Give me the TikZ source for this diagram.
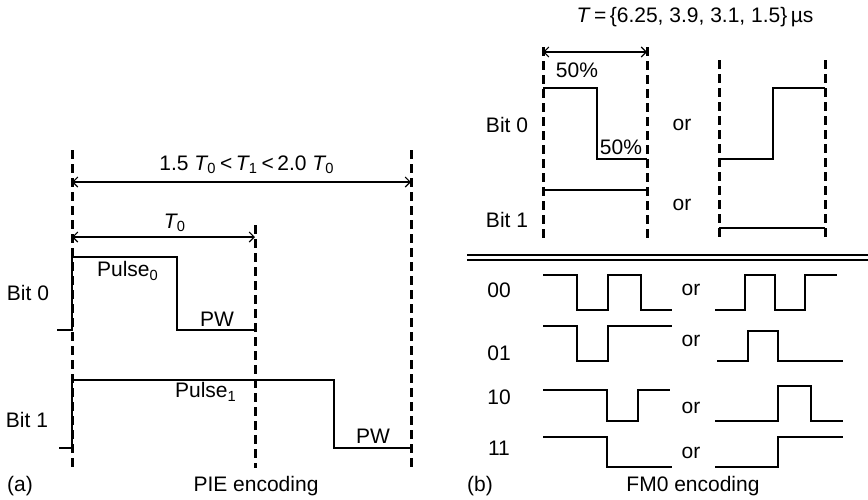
\documentclass[tikz,border=0pt]{standalone}
\usepackage{fontspec}
\setmainfont{Liberation Sans}
\usetikzlibrary{arrows.meta}
\newcommand{\Tsub}[1]{\textit{T}\kern-0.5pt\textsubscript{#1}}

\begin{document}
\begin{tikzpicture}[x = 0.5pt, y = -0.5pt,
    font = \fontsize{10.5}{12}\selectfont,
    guide/.style = {line width = 1.5pt, dash pattern = on 4.5pt off 2.5pt},
    wave/.style = {line width = 0.7pt},
    dim/.style = {line width = 0.55pt,
      {Straight Barb[length = 2.5pt, width = 5pt]}-{Straight Barb[length = 2.5pt, width = 5pt]}},
    lbl/.style = {inner sep = 0pt}]
  \useasboundingbox (0, 0) rectangle (868, 499);
  % (a) guides
  \coordinate (ga) at (72, 150);
  \coordinate (gb) at (255, 225);
  \coordinate (gc) at (411, 150);
  \foreach \g in {ga, gb, gc}
    \draw[guide] (\g) -- (\g |- 0, 468);
  % (a) dimensions
  \draw[dim] (ga |- 0, 182) -- (gc |- 0, 182);
  \node[lbl] (range) at (247, 165) {1.5 \Tsub{0}\,<\,\Tsub{1}\,<\,2.0 \Tsub{0}};
  \draw[dim] (ga |- 0, 237) -- (gb |- 0, 237);
  \node[lbl] (tzero) at (175, 223) {\Tsub{0}};
  % (a) pulses
  \draw[wave] (57, 330) -- (72, 330) -- (72, 257) -- (177, 257) -- (177, 330) -- (255, 330);
  \draw[wave] (59, 448) -- (72, 448) -- (72, 380) -- (334, 380) -- (334, 448) -- (411, 448);
  \node[lbl] (bitA0) at (28, 293) {Bit 0};
  \node[lbl] (bitA1) at (27, 420) {Bit 1};
  \node[lbl] (pulse0) at (128, 271) {Pulse\textsubscript{0}};
  \node[lbl] (pw0) at (217, 319) {PW};
  \node[lbl] (pulse1) at (206, 392) {Pulse\textsubscript{1}};
  \node[lbl] (pw1) at (373, 436) {PW};
  \node[lbl] (capA) at (20, 486) {(a)};
  \node[lbl] (pie) at (256, 486) {PIE encoding};
  % (b) guides
  \coordinate (gd) at (543, 47);
  \coordinate (ge) at (647, 47);
  \coordinate (gf) at (719, 60);
  \coordinate (gg) at (825, 60);
  \foreach \g in {gd, ge, gf, gg}
    \draw[guide] (\g) -- (\g |- 0, 240);
  \draw[dim] (gd |- 0, 52) -- (ge |- 0, 52);
  \node[lbl] (period) at (695, 17) {\textit{T}\,=\,\{6.25, 3.9, 3.1, 1.5\}\,µs};
  % (b) bit symbols
  \draw[wave] (543, 88) -- (597, 88) -- (597, 159) -- (647, 159);
  \draw[wave] (719, 159) -- (773, 159) -- (773, 88) -- (825, 88);
  \draw[wave] (543, 190) -- (647, 190);
  \draw[wave] (719, 228) -- (825, 228);
  \node[lbl] (half1) at (577, 70) {50\%};
  \node[lbl] (half2) at (621, 147) {50\%};
  \node[lbl] (bitB0) at (507, 125) {Bit 0};
  \node[lbl] (bitB1) at (507, 220) {Bit 1};
  \node[lbl] (orB0) at (682, 125) {or};
  \node[lbl] (orB1) at (682, 205) {or};
  % separator
  \draw[line width = 0.8pt] (467, 255) -- (868, 255);
  \draw[line width = 0.8pt] (467, 260) -- (868, 260);
  % (b) bit pairs
  \draw[wave] (543, 275) -- (577, 275) -- (577, 310) -- (608, 310) -- (608, 275)
    -- (641, 275) -- (641, 310) -- (672, 310);
  \draw[wave] (715, 310) -- (745, 310) -- (745, 275) -- (775, 275) -- (775, 310)
    -- (805, 310) -- (805, 275) -- (837, 275);
  \draw[wave] (543, 326) -- (577, 326) -- (577, 361) -- (608, 361) -- (608, 326) -- (672, 326);
  \draw[wave] (717, 361) -- (748, 361) -- (748, 331) -- (778, 331) -- (778, 361) -- (843, 361);
  \draw[wave] (543, 390) -- (607, 390) -- (607, 421) -- (638, 421) -- (638, 390) -- (670, 390);
  \draw[wave] (715, 421) -- (778, 421) -- (778, 386) -- (811, 386) -- (811, 421) -- (843, 421);
  \draw[wave] (543, 437) -- (607, 437) -- (607, 467) -- (672, 467);
  \draw[wave] (715, 467) -- (778, 467) -- (778, 437) -- (843, 437);
  \foreach \b/\y/\o in {00/290/290, 01/353/341, 10/397/408, 11/448/453} {
    \node[lbl] (pair\b) at (499, \y) {\b};
    \node[lbl] (or\b) at (691, \o) {or};
  }
  \node[lbl] (capB) at (480, 486) {(b)};
  \node[lbl] (fmzero) at (693, 486) {FM0 encoding};
\end{tikzpicture}
\end{document}
